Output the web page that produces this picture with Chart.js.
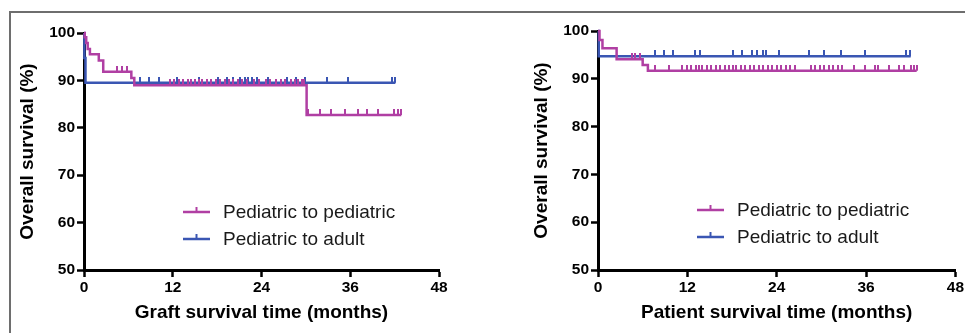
<!DOCTYPE html>
<html>
<head>
<meta charset="utf-8">
<script src="https://cdn.jsdelivr.net/npm/chart.js@4/dist/chart.umd.min.js"></script>
<style>
  html, body { margin: 0; padding: 0; background: #fff; }
  body { width: 965px; height: 333px; position: relative; overflow: hidden; }
  #frame { position: absolute; left: 9px; top: 11px; width: 970px; height: 340px;
           border-top: 2px solid #6e6e6e; border-left: 2px solid #6e6e6e; }
  .wrap { position: absolute; top: 0; width: 480px; height: 333px; }
  #w1 { left: 0; }
  #w2 { left: 485px; }
</style>
</head>
<body>
<div id="frame"></div>
<div class="wrap" id="w1"><canvas id="c1" width="480" height="333"></canvas></div>
<div class="wrap" id="w2"><canvas id="c2" width="480" height="333"></canvas></div>
<script>
// ---------------- DATA ----------------
const seriesNames = ['Pediatric to pediatric', 'Pediatric to adult'];
const timeTicks = [0, 12, 24, 36, 48];
const survivalTicks = [50, 60, 70, 80, 90, 100];
const xTitles = ['Graft survival time (months)', 'Patient survival time (months)'];
const yTitle = 'Overall survival (%)';

// Graft survival – Pediatric to pediatric (event times / survival after event)
const graftPedTimes = [0, 0.1, 0.3, 0.5, 0.8, 2.0, 2.6, 6.4, 6.8, 30.1, 42.9];
const graftPedSurv  = [100, 99.1, 97.9, 96.6, 95.5, 94.2, 91.8, 90.5, 89.0, 82.7, 82.7];
const graftPedCensor = [4.5, 5.1, 5.8, 11.6, 12.2, 12.8, 13.4, 14.0, 14.5, 15.0, 15.5, 16.0, 16.6,
  17.2, 17.8, 18.4, 19.0, 19.6, 20.2, 20.8, 21.4, 22.0, 23.0, 23.6, 24.6, 25.2, 26.0, 26.6, 27.2,
  28.0, 28.5, 29.0, 29.5, 29.8, 30.3, 31.9, 33.4, 35.3, 37.1, 38.3, 39.8, 41.9, 42.5, 42.9];

// Graft survival – Pediatric to adult
const graftAdTimes = [0, 0.05, 0.2, 42.1];
const graftAdSurv  = [100, 94.7, 89.5, 89.5];
const graftAdCensor = [7.6, 8.8, 10.1, 12.6, 15.6, 18.1, 19.4, 20.2, 21.1, 21.8, 22.2, 22.7, 23.4,
  24.9, 27.5, 28.6, 29.9, 32.9, 35.7, 41.6, 42.1];

// Patient survival – Pediatric to pediatric
const patPedTimes = [0, 0.2, 0.6, 2.5, 6.0, 6.7, 42.8];
const patPedSurv  = [100, 98.1, 96.4, 94.1, 92.9, 91.7, 91.7];
const patPedCensor = [4.5, 5.0, 5.6, 7.6, 9.6, 11.3, 12.0, 12.5, 13.2, 13.6, 14.0, 14.6, 15.2, 15.8,
  16.4, 17.0, 17.6, 18.1, 18.6, 19.2, 19.8, 20.4, 21.0, 21.6, 22.2, 22.8, 23.4, 24.0, 24.6, 25.2,
  25.8, 26.5, 28.6, 29.2, 29.8, 30.4, 31.0, 31.6, 32.2, 32.8, 34.4, 35.9, 37.2, 37.6, 39.1, 40.4,
  41.1, 42.0, 42.5, 42.8];

// Patient survival – Pediatric to adult
const patAdTimes = [0, 0.1, 42.0];
const patAdSurv  = [100, 94.7, 94.7];
const patAdCensor = [7.6, 8.8, 10.1, 13.0, 13.7, 18.1, 19.4, 20.7, 21.4, 22.1, 22.5, 24.3, 28.4,
  30.4, 32.7, 35.8, 41.4, 41.9];

// ---------------- STYLE ----------------
const MAGENTA = '#b03fa3';
const BLUE = '#3a56b3';
const FONT = "Arial, 'Liberation Sans', Helvetica, sans-serif";

function tickImage(color) {
  const c = document.createElement('canvas');
  c.width = 2; c.height = 12;
  const g = c.getContext('2d');
  g.fillStyle = color;
  g.fillRect(0, 0, 2, 6);
  return c;
}

function survivalAt(times, surv, t) {
  let v = surv[0];
  for (let i = 0; i < times.length; i++) { if (times[i] <= t) v = surv[i]; }
  return v;
}

function curve(times, surv, color, label) {
  return {
    label: label,
    data: times.map((t, i) => ({ x: t, y: surv[i] })),
    borderColor: color, backgroundColor: color, showLine: true,
    borderWidth: 2.5, stepped: true, pointRadius: 0, fill: false, clip: false, order: 2
  };
}
function censor(times, surv, censorTimes, color) {
  return {
    label: '',
    data: censorTimes.map(t => ({ x: t, y: survivalAt(times, surv, t) })),
    showLine: false, pointStyle: tickImage(color), pointRadius: 4, clip: false, order: 1,
    borderColor: color, backgroundColor: color
  };
}

const legendPlugin = {
  id: 'kmLegend',
  afterDatasetsDraw(chart) {
    const { ctx, chartArea } = chart;
    ctx.save();
    [0, 1].forEach((i, k) => {
      const ds = chart.data.datasets[i];
      const y = chartArea.top + 179 + k * 27;
      const x0 = chartArea.left + 99, x1 = chartArea.left + 126;
      ctx.strokeStyle = ds.borderColor; ctx.lineWidth = 2.5;
      ctx.beginPath(); ctx.moveTo(x0, y); ctx.lineTo(x1, y); ctx.stroke();
      ctx.lineWidth = 2;
      ctx.beginPath(); ctx.moveTo((x0 + x1) / 2, y); ctx.lineTo((x0 + x1) / 2, y - 5); ctx.stroke();
      ctx.fillStyle = '#1a1a1a';
      ctx.font = '19px ' + FONT;
      ctx.textBaseline = 'middle';
      ctx.textAlign = 'left';
      ctx.fillText(ds.label, chartArea.left + 139, y + 1);
    });
    ctx.restore();
  }
};

function makeChart(id, datasets, xTitle, pad) {
  return new Chart(document.getElementById(id), {
    type: 'scatter',
    data: { datasets },
    plugins: [legendPlugin],
    options: {
      responsive: false, animation: false, devicePixelRatio: 1,
      layout: { padding: pad },
      plugins: { legend: { display: false }, tooltip: { enabled: false } },
      scales: {
        x: {
          type: 'linear', min: 0, max: 48,
          afterBuildTicks: s => { s.ticks = timeTicks.map(v => ({ value: v })); },
          afterFit: s => { s.height = 63; },
          border: { display: true, color: '#000', width: 3 },
          grid: { drawOnChartArea: false, drawTicks: true, tickLength: 7, tickWidth: 2.5, tickColor: '#000', color: '#000' },
          ticks: { color: '#000', font: { family: FONT, size: 15.5, weight: 'bold' }, padding: 1, maxRotation: 0 },
          title: { display: true, text: xTitle, color: '#000', font: { family: FONT, size: 19, weight: 'bold' }, padding: { top: 2, bottom: 8.6 } }
        },
        y: {
          type: 'linear', min: 50, max: 100,
          afterBuildTicks: s => { s.ticks = survivalTicks.map(v => ({ value: v })); },
          afterFit: s => { s.width = 84; },
          border: { display: true, color: '#000', width: 3 },
          grid: { drawOnChartArea: false, drawTicks: true, tickLength: 7, tickWidth: 2.5, tickColor: '#000', color: '#000' },
          ticks: { color: '#000', font: { family: FONT, size: 15.5, weight: 'bold' }, padding: 2 },
          title: { display: true, text: yTitle, color: '#000', font: { family: FONT, size: 19, weight: 'bold' }, padding: { top: 16.5, bottom: 2 } }
        }
      }
    }
  });
}

makeChart('c1', [
  curve(graftPedTimes, graftPedSurv, MAGENTA, seriesNames[0]),
  curve(graftAdTimes, graftAdSurv, BLUE, seriesNames[1]),
  censor(graftPedTimes, graftPedSurv, graftPedCensor, MAGENTA),
  censor(graftAdTimes, graftAdSurv, graftAdCensor, BLUE)
], xTitles[0], { left: 0, top: 33, right: 41, bottom: 0 });

makeChart('c2', [
  curve(patPedTimes, patPedSurv, MAGENTA, seriesNames[0]),
  curve(patAdTimes, patAdSurv, BLUE, seriesNames[1]),
  censor(patPedTimes, patPedSurv, patPedCensor, MAGENTA),
  censor(patAdTimes, patAdSurv, patAdCensor, BLUE)
], xTitles[1], { left: 29, top: 31, right: 9, bottom: 0 });
</script>
</body>
</html>
